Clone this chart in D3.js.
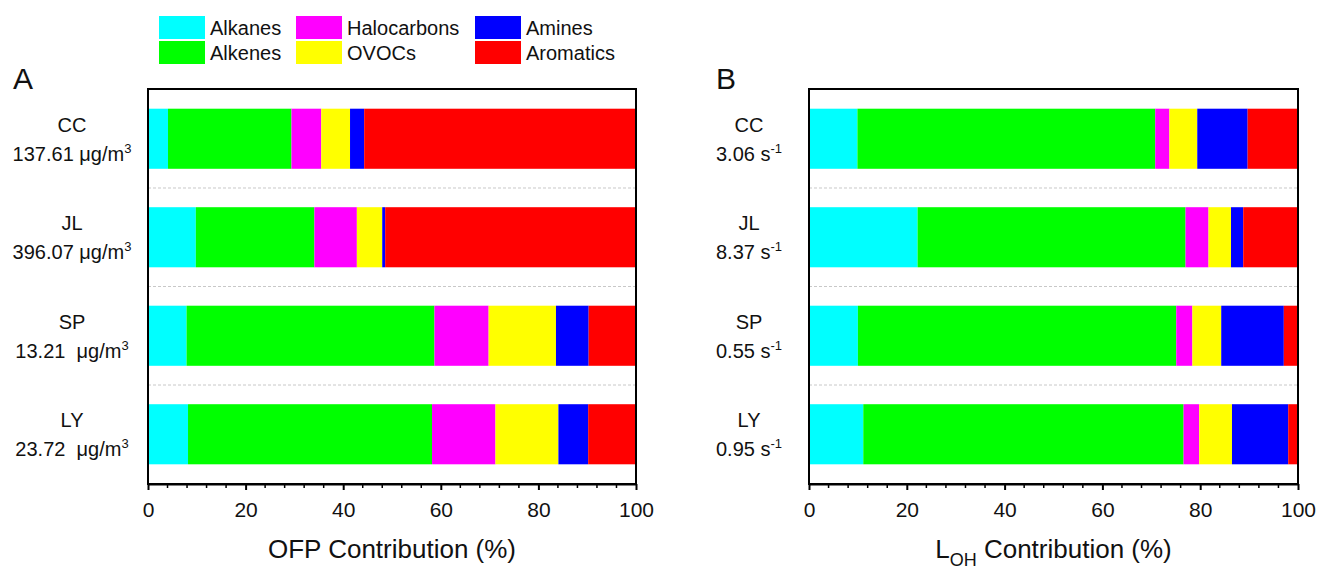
<!DOCTYPE html>
<html>
<head>
<meta charset="utf-8">
<script src="https://cdn.jsdelivr.net/npm/d3@7"></script>
<style>
  body { margin: 0; background: #fff; }
  text { font-family: "Liberation Sans", Arial, sans-serif; fill: #111; }
</style>
</head>
<body>
<div id="vis"></div>
<script>
// categories / groups
const groups = ['Alkanes', 'Alkenes', 'Halocarbons', 'OVOCs', 'Amines', 'Aromatics']
const groupColors = ['#00ffff', '#00ff00', '#ff00ff', '#ffff00', '#0000ff', '#ff0000']
const sites = ['CC', 'JL', 'SP', 'LY']

// panel A: OFP share (%) per site, in group order
const ofpCC = [4.1, 25.3, 6.1, 5.9, 2.9, 55.7]
const ofpJL = [9.8, 24.3, 8.7, 5.2, 0.6, 51.4]
const ofpSP = [7.9, 50.8, 11.1, 13.8, 6.7, 9.7]
const ofpLY = [8.2, 50.0, 13.0, 12.9, 6.1, 9.8]
const ofpTotals = ['137.61 ', '396.07 ', '13.21  ', '23.72  ']

// panel B: LOH share (%) per site
const lohCC = [9.9, 60.9, 2.9, 5.7, 10.3, 10.3]
const lohJL = [22.2, 54.8, 4.7, 4.6, 2.5, 11.2]
const lohSP = [10.0, 65.1, 3.3, 5.9, 12.8, 2.9]
const lohLY = [11.1, 65.5, 3.2, 6.7, 11.5, 2.0]
const lohTotals = ['3.06 ', '8.37 ', '0.55 ', '0.95 ']

const xTicks = [0, 20, 40, 60, 80, 100]

function toRows(arrs) {
    return sites.map((s, i) => {
        let row = {site: s}
        groups.forEach((g, j) => row[g] = arrs[i][j])
        return row
    })
}

const svg = d3.select('#vis').append('svg')
    .attr('width', 1321)
    .attr('height', 569)

const plotTop = 89, plotBottom = 484

const panels = [
    {letter: 'A', letterX: 13, x0: 148, x1: 636, labelX: 72,
     rows: toRows([ofpCC, ofpJL, ofpSP, ofpLY]), totals: ofpTotals, unit: 'ug', title: 'ofp'},
    {letter: 'B', letterX: 716, x0: 809, x1: 1298, labelX: 749,
     rows: toRows([lohCC, lohJL, lohSP, lohLY]), totals: lohTotals, unit: 's', title: 'loh'}
]

const stack = d3.stack().keys(groups)
const color = d3.scaleOrdinal().domain(groups).range(groupColors)

panels.forEach(p => {
    const g = svg.append('g')
    const x = d3.scaleLinear().domain([0, 100]).range([p.x0, p.x1])
    const y = d3.scaleBand().domain(sites).range([plotTop, plotBottom])
        .paddingInner(0.39).paddingOuter(0.2)

    // dashed separators between bars
    const sepY = sites.slice(0, -1).map(s => y(s) + y.bandwidth() + y.step() * y.paddingInner() / 2)
    g.selectAll('.sep').data(sepY).join('line')
        .attr('x1', p.x0).attr('x2', p.x1)
        .attr('y1', d => d).attr('y2', d => d)
        .attr('stroke', '#c8c8c8').attr('stroke-width', 1)
        .attr('stroke-dasharray', '3,2')

    // stacked bars
    const series = stack(p.rows)
    g.selectAll('.layer').data(series).join('g')
        .attr('fill', d => color(d.key))
        .selectAll('rect').data(d => d).join('rect')
        .attr('x', d => x(d[0]))
        .attr('width', d => x(d[1]) - x(d[0]))
        .attr('y', d => y(d.data.site))
        .attr('height', y.bandwidth())

    // frame
    g.append('rect')
        .attr('x', p.x0).attr('y', plotTop)
        .attr('width', p.x1 - p.x0).attr('height', plotBottom - plotTop)
        .attr('fill', 'none').attr('stroke', '#000').attr('stroke-width', 2)

    // minor ticks
    const minor = d3.range(0, 101, 4).filter(v => v % 20 !== 0)
    g.selectAll('.minor').data(minor).join('line')
        .attr('x1', d => x(d)).attr('x2', d => x(d))
        .attr('y1', plotBottom).attr('y2', plotBottom + 4)
        .attr('stroke', '#000').attr('stroke-width', 1.5)

    // axis
    const axis = g.append('g')
        .attr('transform', `translate(0,${plotBottom})`)
        .call(d3.axisBottom(x).tickValues(xTicks).tickSize(6).tickPadding(12).tickSizeOuter(0))
    axis.select('.domain').attr('stroke-width', 2)
    axis.selectAll('.tick line').attr('stroke-width', 2)
    axis.selectAll('.tick text')
        .style('font-family', '"Liberation Sans", Arial, sans-serif')
        .style('font-size', '21px').attr('fill', '#111')

    // site labels
    sites.forEach((s, i) => {
        const cy = y(s) + y.bandwidth() / 2
        g.append('text').attr('x', p.labelX).attr('y', cy - 7)
            .attr('text-anchor', 'middle').style('font-size', '20px').text(s)
        const t = g.append('text').attr('x', p.labelX).attr('y', cy + 22)
            .attr('text-anchor', 'middle').style('font-size', '20px')
            .style('white-space', 'pre')
        if (p.unit === 'ug') {
            t.append('tspan').text(p.totals[i] + 'μg/m')
            t.append('tspan').attr('dy', -8).style('font-size', '13px').text('3')
        } else {
            t.append('tspan').text(p.totals[i] + 's')
            t.append('tspan').attr('dy', -8).style('font-size', '13px').text('-1')
        }
    })

    // panel letter
    svg.append('text').attr('x', p.letterX).attr('y', 89)
        .style('font-size', '30px').text(p.letter)

    // axis title
    const cx = (p.x0 + p.x1) / 2
    const tt = svg.append('text').attr('x', cx).attr('y', 558)
        .attr('text-anchor', 'middle').style('font-size', '26px')
    if (p.title === 'ofp') {
        tt.text('OFP Contribution (%)')
    } else {
        tt.append('tspan').text('L')
        tt.append('tspan').attr('dy', 8).style('font-size', '18px').text('OH')
        tt.append('tspan').attr('dy', -8).text(' Contribution (%)')
    }
})

// legend
const legX = [159, 296, 475]
const legY = [16, 41]
const leg = svg.append('g')
groups.forEach((gname, i) => {
    const col = Math.floor(i / 2), row = i % 2
    leg.append('rect')
        .attr('x', legX[col]).attr('y', legY[row])
        .attr('width', 46).attr('height', 23)
        .attr('fill', color(gname))
    leg.append('text')
        .attr('x', legX[col] + 51).attr('y', legY[row] + 19)
        .style('font-size', '20px').text(gname)
})
</script>
</body>
</html>
